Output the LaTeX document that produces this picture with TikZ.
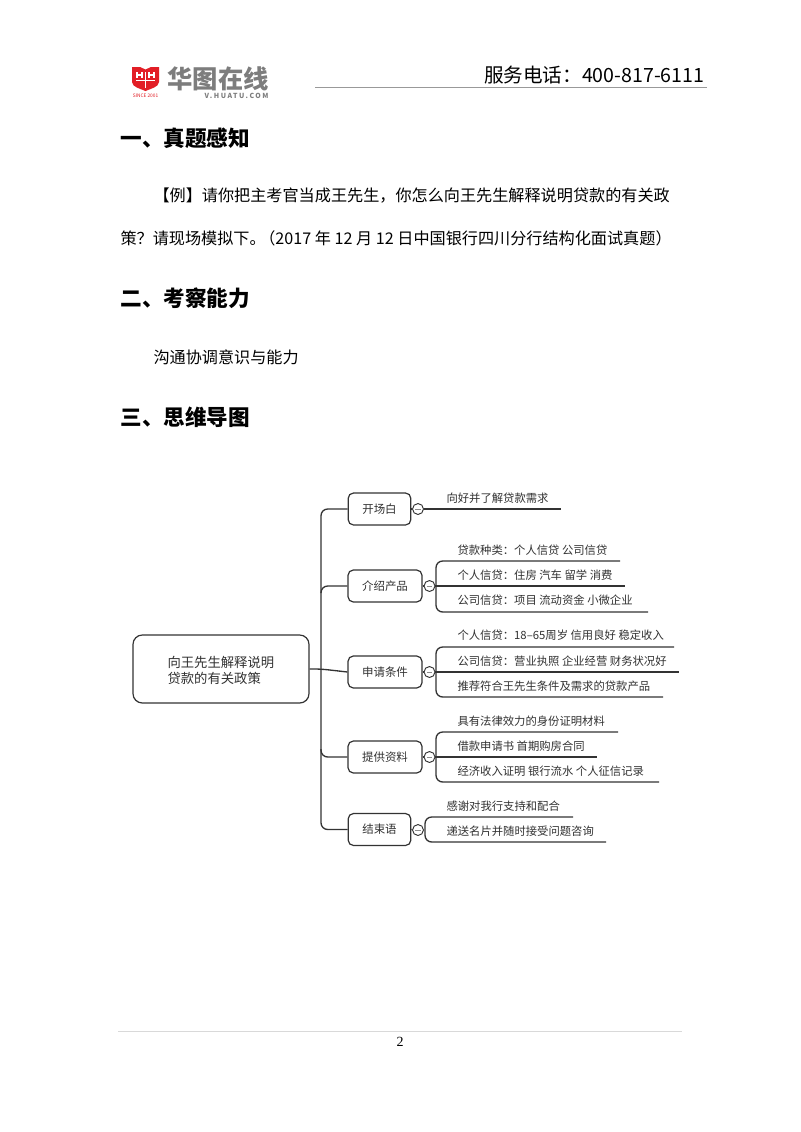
\documentclass[tikz,border=0pt]{standalone}
\usepackage{fontspec}
\setmainfont{Noto Sans CJK SC}
\newfontfamily\pagefont{Liberation Serif}
\usepackage{xcolor}
\definecolor{huatured}{RGB}{226,30,38}
\definecolor{logogray}{RGB}{125,125,125}
\definecolor{inkgray}{RGB}{50,50,50}
\newcommand{\pxfont}[1]{\fontsize{#1}{#1}\selectfont}
\newcommand{\wcolon}{^^^^ff1a}
\newcommand{\wcomma}{^^^^ff0c}
\newcommand{\wquery}{^^^^ff1f}
\newcommand{\wopen}{^^^^ff08}
\newcommand{\wclose}{^^^^ff09}

\begin{document}
\begin{tikzpicture}[x=0.75pt,y=-0.75pt,-,thick,inner sep=0pt,
  main node/.style={draw=black!80,line width=0.9pt,rounded corners=4pt,text=inkgray},
  branch node/.style={main node,minimum height=24pt,font=\pxfont{8.6}},
  heading/.style={anchor=west,font=\pxfont{16.2}\bfseries},
  body text/.style={anchor=west,font=\pxfont{12.1}},
  leaf text/.style={anchor=west,text=inkgray,font=\pxfont{8.5}},
  fold node/.style={circle,draw=black!80,line width=0.7pt,minimum size=8.2pt,
    path picture={\draw[line width=0.4pt,black!45] (path picture bounding box.center) +(-2pt,0) -- +(2pt,0);}}]
\tikzstyle{map line} = [draw=black!80,line width=1pt,rounded corners=5pt]

\useasboundingbox (0,0) rectangle (800,1132);
\fill[white] (0,0) rectangle (800,1132);

% Logo
\fill[huatured] (132,67) -- (140,67) -- (145.5,69.5) -- (151,67) -- (159,67) -- (159,82) .. controls (159,87) and (150,89) .. (145.5,91) .. controls (141,89) and (132,87) .. (132,82) -- cycle;
\draw[white,line width=1.2pt] (137,72) -- (137,78) (142,72) -- (142,78) (137,75) -- (142,75) (149,72) -- (149,78) (154,72) -- (154,78) (149,75) -- (154,75) (136,80.5) -- (155,80.5) (145.5,72) -- (145.5,88);
\node[anchor=center,text=huatured,font=\pxfont{3.6}] (since) at (145.5,96) {SINCE 2001};
\node[anchor=west,text=logogray,font=\pxfont{19}\bfseries] (logoname) at (167,79) {华图在线};
\node[anchor=east,text=logogray,font=\pxfont{5.2}\bfseries\addfontfeature{LetterSpace=22}] (logosite) at (269,95.5) {V.HUATU.COM};

% Header
\node[anchor=east,font=\pxfont{14.7}] (phone) at (705,75) {服务电话\wcolon 400-817-6111};
\coordinate (ruleleft) at (315,87.5);
\coordinate (ruleright) at (707,87.5);
\draw[black!40,line width=1.1pt] (ruleleft) -- (ruleright);

% Text
\node[heading] (head1) at (120,138) {一、真题感知};
\node[body text] (ask1) at (153,196) {【例】请你把主考官当成王先生\wcomma 你怎么向王先生解释说明贷款的有关政};
\node[body text] (ask2) at (120,238) {策\wquery 请现场模拟下。\hspace{-0.4em}\wopen 2017 年 12 月 12 日中国银行四川分行结构化面试真题\wclose};
\node[heading] (head2) at (120,298) {二、考察能力};
\node[body text] (ability) at (153,357) {沟通协调意识与能力};
\node[heading] (head3) at (120,417) {三、思维导图};

% Main boxes
\node[main node,minimum width=132pt,minimum height=51pt,rounded corners=7pt] (root) at (221,669) {};
\node[anchor=west,align=left,text=inkgray,font=\pxfont{10}] (roottext) at (167,670) {向王先生解释说明\\[2pt]贷款的有关政策};
\node[branch node,minimum width=47pt] (opening) at (379.5,509) {开场白};
\node[branch node,minimum width=55.5pt] (intro) at (385,586) {介绍产品};
\node[branch node,minimum width=55.5pt] (apply) at (385,672) {申请条件};
\node[branch node,minimum width=55.5pt] (papers) at (385,757) {提供资料};
\node[branch node,minimum width=47pt] (closing) at (379.5,829.5) {结束语};

% Fold circles
\node[fold node] (foldopening) at (418,509) {};
\node[fold node] (foldintro) at (429.5,586) {};
\node[fold node] (foldapply) at (429.5,672) {};
\node[fold node] (foldpapers) at (429.5,757) {};
\node[fold node] (foldclosing) at (418,830) {};

% Trunk
\coordinate (trunktop) at (321,509);
\coordinate (trunkbottom) at (321,829.5);
\coordinate (trunkintro) at (321,593);
\coordinate (trunkapply) at (321,669);
\draw[map line] (opening.west) -- (trunktop) -- (trunkbottom) -- (closing.west);
\draw[map line] (root.east) -- (trunkapply) -- (apply.west);
\draw[map line] (intro.west) -| (trunkintro);
\coordinate (trunkpapers) at (321,749);
\draw[map line] (papers.west) -| (trunkpapers);

% Opening
\coordinate (openingend) at (561,509);
\draw[map line] (opening.east) -- (foldopening);
\draw[map line] (foldopening) -- (openingend);
\node[leaf text] (opening1) at (446,498) {向好并了解贷款需求};

% Products
\coordinate (introtop) at (620,561);
\coordinate (intromid) at (625,586);
\coordinate (introlow) at (648,612);
\coordinate (introcorner1) at (436,561);
\coordinate (introcorner2) at (436,612);
\draw[map line] (intro.east) -- (foldintro);
\draw[map line] (introtop) -- (introcorner1) -- (introcorner2) -- (introlow);
\draw[map line] (foldintro) -- (intromid);
\node[leaf text] (intro1) at (457,550) {贷款种类\wcolon 个人信贷 公司信贷};
\node[leaf text] (intro2) at (457,575) {个人信贷\wcolon 住房 汽车 留学 消费};
\node[leaf text] (intro3) at (457,600) {公司信贷\wcolon 项目 流动资金 小微企业};

% Conditions
\coordinate (applytop) at (674,647);
\coordinate (applymid) at (679,672);
\coordinate (applylow) at (663,697);
\coordinate (applycorner1) at (436,647);
\coordinate (applycorner2) at (436,697);
\draw[map line] (apply.east) -- (foldapply);
\draw[map line] (applytop) -- (applycorner1) -- (applycorner2) -- (applylow);
\draw[map line] (foldapply) -- (applymid);
\node[leaf text] (apply1) at (457,635) {个人信贷\wcolon 18–65周岁 信用良好 稳定收入};
\node[leaf text] (apply2) at (457,661) {公司信贷\wcolon 营业执照 企业经营 财务状况好};
\node[leaf text] (apply3) at (457,686) {推荐符合王先生条件及需求的贷款产品};

% Documents
\coordinate (paperstop) at (618,732);
\coordinate (papersmid) at (597,757);
\coordinate (paperslow) at (659,782);
\coordinate (paperscorner1) at (436,732);
\coordinate (paperscorner2) at (436,782);
\draw[map line] (papers.east) -- (foldpapers);
\draw[map line] (paperstop) -- (paperscorner1) -- (paperscorner2) -- (paperslow);
\draw[map line] (foldpapers) -- (papersmid);
\node[leaf text] (papers1) at (457,721) {具有法律效力的身份证明材料};
\node[leaf text] (papers2) at (457,746) {借款申请书 首期购房合同};
\node[leaf text] (papers3) at (457,771) {经济收入证明 银行流水 个人征信记录};

% Closing
\coordinate (closingtop) at (573,817);
\coordinate (closinglow) at (606,842);
\coordinate (closingcorner1) at (425,817);
\coordinate (closingcorner2) at (425,842);
\draw[map line] (closing.east) -- (foldclosing);
\draw[map line] (closingtop) -- (closingcorner1) -- (closingcorner2) -- (closinglow);
\node[leaf text] (closing1) at (446,806) {感谢对我行支持和配合};
\node[leaf text] (closing2) at (446,831) {递送名片并随时接受问题咨询};

% Footer
\coordinate (footleft) at (118,1031);
\coordinate (footright) at (682,1031);
\draw[black!15,line width=0.6pt] (footleft) -- (footright);
\node[font=\pagefont\pxfont{10.5}] (pagenum) at (400,1042) {2};

\end{tikzpicture}
\end{document}
